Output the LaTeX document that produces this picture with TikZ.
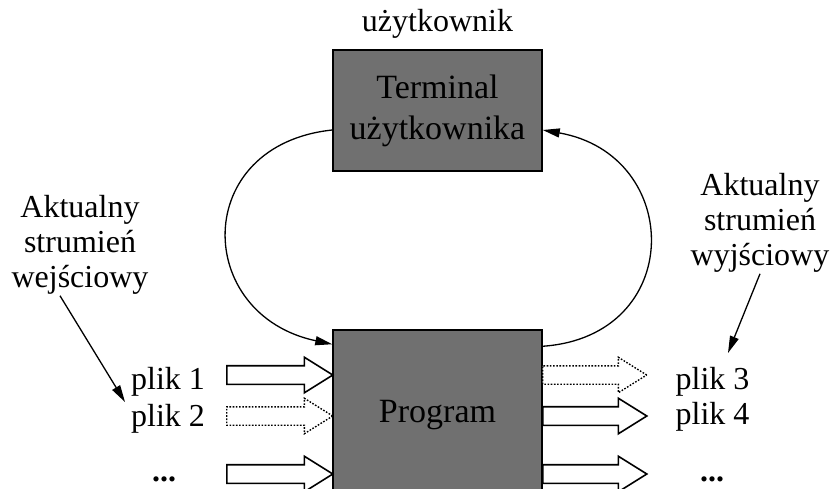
\documentclass[tikz,border=0pt]{standalone}
\usepackage{fontspec}
\setmainfont{Liberation Serif}
\usetikzlibrary{shapes.arrows,arrows.meta}
\definecolor{boxgray}{RGB}{112,112,112}

\begin{document}
\begin{tikzpicture}[x=1pt, y=-1pt, font=\fontsize{32}{35}\selectfont]
    \tikzset{ box/.style={draw, line width=1.5pt, fill=boxgray, minimum width=209pt,
                font=\fontsize{34}{41}\selectfont, align=center},
              txt/.style={inner sep=1pt, align=center},
              fatarrow/.style={single arrow, draw, line width=1.6pt, fill=white, inner xsep=0pt,
                inner ysep=8.5pt, single arrow head extend=8.5pt, single arrow tip angle=64,
                anchor=tail},
              dotarrow/.style={fatarrow, line width=1.4pt, dash pattern=on 1.6pt off 1.6pt},
              flow/.style={line width=1.3pt, -{Triangle[length=17pt, width=9pt]}} }
    \useasboundingbox (0,0) rectangle (834,488);

    % boxes
    \node[box, minimum height=121pt] (term) at (437.5,110.5) {Terminal\\użytkownika};
    \node[box, minimum height=170pt] (prog) at (437.5,415) {Program};
    \node[txt] (user) at (437.5,24) {użytkownik};

    % loop between terminal and program
    \draw[flow] ([yshift=-19.5pt]term.west) to[out=186, in=168, looseness=1.7] ([yshift=-15pt]prog.north west);
    \draw[flow] ([yshift=-17pt]prog.north east) to[out=4, in=-10, looseness=1.7] ([yshift=-19.5pt]term.east);

    % input files
    \node[txt] (f1) at (168,381.5) {plik 1};
    \node[txt] (f2) at (168,418.5) {plik 2};
    \node[txt] (fdotsL) at (164,479) {\textbf{...}};
    \node[fatarrow, minimum height=106pt] (in1) at (226,375) {};
    \node[dotarrow, minimum height=106pt] (in2) at (226,416) {};
    \node[fatarrow, minimum height=106pt] (in3) at (226,474) {};

    % output files
    \node[txt] (f3) at (712.5,381.5) {plik 3};
    \node[txt] (f4) at (712.5,416.5) {plik 4};
    \node[txt] (fdotsR) at (712,479) {\textbf{...}};
    \node[dotarrow, minimum height=104pt] (out1) at (542,375) {};
    \node[fatarrow, minimum height=104pt] (out2) at (542,416) {};
    \node[fatarrow, minimum height=104pt] (out3) at (542,474) {};

    % current streams
    \node[txt] (inlbl) at (80,245) {Aktualny\\strumień\\wejściowy};
    \node[txt] (outlbl) at (760,223) {Aktualny\\strumień\\wyjściowy};
    \coordinate (inptr) at (125,402);
    \coordinate (outptr) at (728,353);
    \draw[flow] ([xshift=-20pt]inlbl.south) -- (inptr);
    \draw[flow] (outlbl.south) -- (outptr);
\end{tikzpicture}
\end{document}
